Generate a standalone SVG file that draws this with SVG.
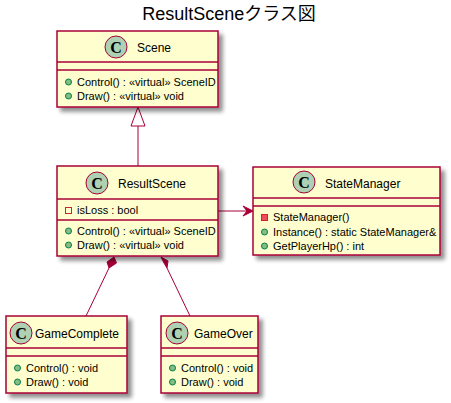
<svg xmlns="http://www.w3.org/2000/svg" width="451" height="403" viewBox="0 0 451 403">
<defs>
<filter id="sh" x="-10%" y="-10%" width="130%" height="130%">
<feGaussianBlur in="SourceAlpha" stdDeviation="2"/>
<feOffset dx="4" dy="4" result="o"/>
<feComponentTransfer><feFuncA type="linear" slope="0.45"/></feComponentTransfer>
<feMerge><feMergeNode/><feMergeNode in="SourceGraphic"/></feMerge>
</filter>
</defs>
<style>
.box{fill:#FEFECE;stroke:#A80036;stroke-width:1.5}
.sep{stroke:#A80036;stroke-width:1.5}
.ci{fill:#ADD1B2;stroke:#A80036;stroke-width:1}
.cl{font-family:"Liberation Serif",serif;font-weight:bold;font-size:16px;fill:#000}
.nm{font-family:"Liberation Sans",Arial,sans-serif;font-size:12px;fill:#000}
.mb{font-family:"Liberation Sans",Arial,sans-serif;font-size:11px;fill:#000}
.pub{fill:#84BE84;stroke:#038048;stroke-width:1}
.pf{fill:none;stroke:#C82930;stroke-width:1}
.pm{fill:#F24D5C;stroke:#C82930;stroke-width:1}
.ln{stroke:#A80036;stroke-width:1;fill:none}
.ttl{font-family:"Liberation Sans","Noto Sans CJK JP",sans-serif;font-size:18px;fill:#000}
</style>
<rect width="451" height="403" fill="#FFFFFF"/>
<text class="ttl" x="229" y="20" text-anchor="middle">ResultSceneクラス図</text>

<g id="connectors">
<line class="ln" x1="138" y1="126" x2="138" y2="166"/>
<polygon points="138,107 131,126 145,126" fill="none" stroke="#A80036" stroke-width="1"/>
<line class="ln" x1="218" y1="211" x2="250" y2="211"/>
<polygon points="253,211 243,206 247,211 243,216" fill="#A80036" stroke="#A80036" stroke-width="1"/>
<line class="ln" x1="109" y1="268" x2="86" y2="316"/>
<polygon points="114,257 116.5,263 109,268 107,262" fill="#A80036" stroke="#A80036" stroke-width="1"/>
<line class="ln" x1="167" y1="268" x2="190" y2="316"/>
<polygon points="161,257 168,261 167,268 164,263" fill="#A80036" stroke="#A80036" stroke-width="1"/>
</g>

<g id="Scene">
<rect class="box" x="57" y="31" width="161" height="76" filter="url(#sh)"/>
<circle class="ci" cx="116" cy="47" r="11"/>
<text class="cl" x="116" y="52.5" text-anchor="middle">C</text>
<text class="nm" x="137" y="52">Scene</text>
<line class="sep" x1="57" y1="62" x2="218" y2="62"/>
<line class="sep" x1="57" y1="70" x2="218" y2="70"/>
<circle class="pub" cx="68.5" cy="82" r="3"/>
<text class="mb" x="77" y="86">Control() : «virtual» SceneID</text>
<circle class="pub" cx="68.5" cy="96" r="3"/>
<text class="mb" x="77" y="100">Draw() : «virtual» void</text>
</g>

<g id="ResultScene">
<rect class="box" x="57" y="166" width="161" height="90" filter="url(#sh)"/>
<circle class="ci" cx="97" cy="183" r="11"/>
<text class="cl" x="97" y="188.5" text-anchor="middle">C</text>
<text class="nm" x="118" y="188">ResultScene</text>
<line class="sep" x1="57" y1="199" x2="218" y2="199"/>
<rect class="pf" x="65.5" y="207.5" width="6" height="6"/>
<text class="mb" x="77" y="214">isLoss : bool</text>
<line class="sep" x1="57" y1="220" x2="218" y2="220"/>
<circle class="pub" cx="68.5" cy="231" r="3"/>
<text class="mb" x="77" y="235">Control() : «virtual» SceneID</text>
<circle class="pub" cx="68.5" cy="245" r="3"/>
<text class="mb" x="77" y="249">Draw() : «virtual» void</text>
</g>

<g id="StateManager">
<rect class="box" x="253" y="167" width="187" height="88" filter="url(#sh)"/>
<circle class="ci" cx="304" cy="182" r="11"/>
<text class="cl" x="304" y="187.5" text-anchor="middle">C</text>
<text class="nm" x="325" y="188">StateManager</text>
<line class="sep" x1="253" y1="198" x2="440" y2="198"/>
<line class="sep" x1="253" y1="206" x2="440" y2="206"/>
<rect class="pm" x="261.5" y="214.5" width="6" height="6"/>
<text class="mb" x="273" y="221">StateManager()</text>
<circle class="pub" cx="264.5" cy="232" r="3"/>
<text class="mb" x="273" y="236">Instance() : static StateManager&amp;</text>
<circle class="pub" cx="264.5" cy="246" r="3"/>
<text class="mb" x="273" y="250">GetPlayerHp() : int</text>
</g>

<g id="GameComplete">
<rect class="box" x="6" y="316" width="121" height="77" filter="url(#sh)"/>
<circle class="ci" cx="21" cy="333" r="11"/>
<text class="cl" x="21" y="338.5" text-anchor="middle">C</text>
<text class="nm" x="35" y="338">GameComplete</text>
<line class="sep" x1="6" y1="348" x2="127" y2="348"/>
<line class="sep" x1="6" y1="356" x2="127" y2="356"/>
<circle class="pub" cx="17.5" cy="368" r="3"/>
<text class="mb" x="26" y="372">Control() : void</text>
<circle class="pub" cx="17.5" cy="382" r="3"/>
<text class="mb" x="26" y="386">Draw() : void</text>
</g>

<g id="GameOver">
<rect class="box" x="161" y="316" width="97" height="77" filter="url(#sh)"/>
<circle class="ci" cx="177" cy="333" r="11"/>
<text class="cl" x="177" y="338.5" text-anchor="middle">C</text>
<text class="nm" x="194" y="338">GameOver</text>
<line class="sep" x1="161" y1="348" x2="258" y2="348"/>
<line class="sep" x1="161" y1="356" x2="258" y2="356"/>
<circle class="pub" cx="172.5" cy="368" r="3"/>
<text class="mb" x="181" y="372">Control() : void</text>
<circle class="pub" cx="172.5" cy="382" r="3"/>
<text class="mb" x="181" y="386">Draw() : void</text>
</g>
</svg>
